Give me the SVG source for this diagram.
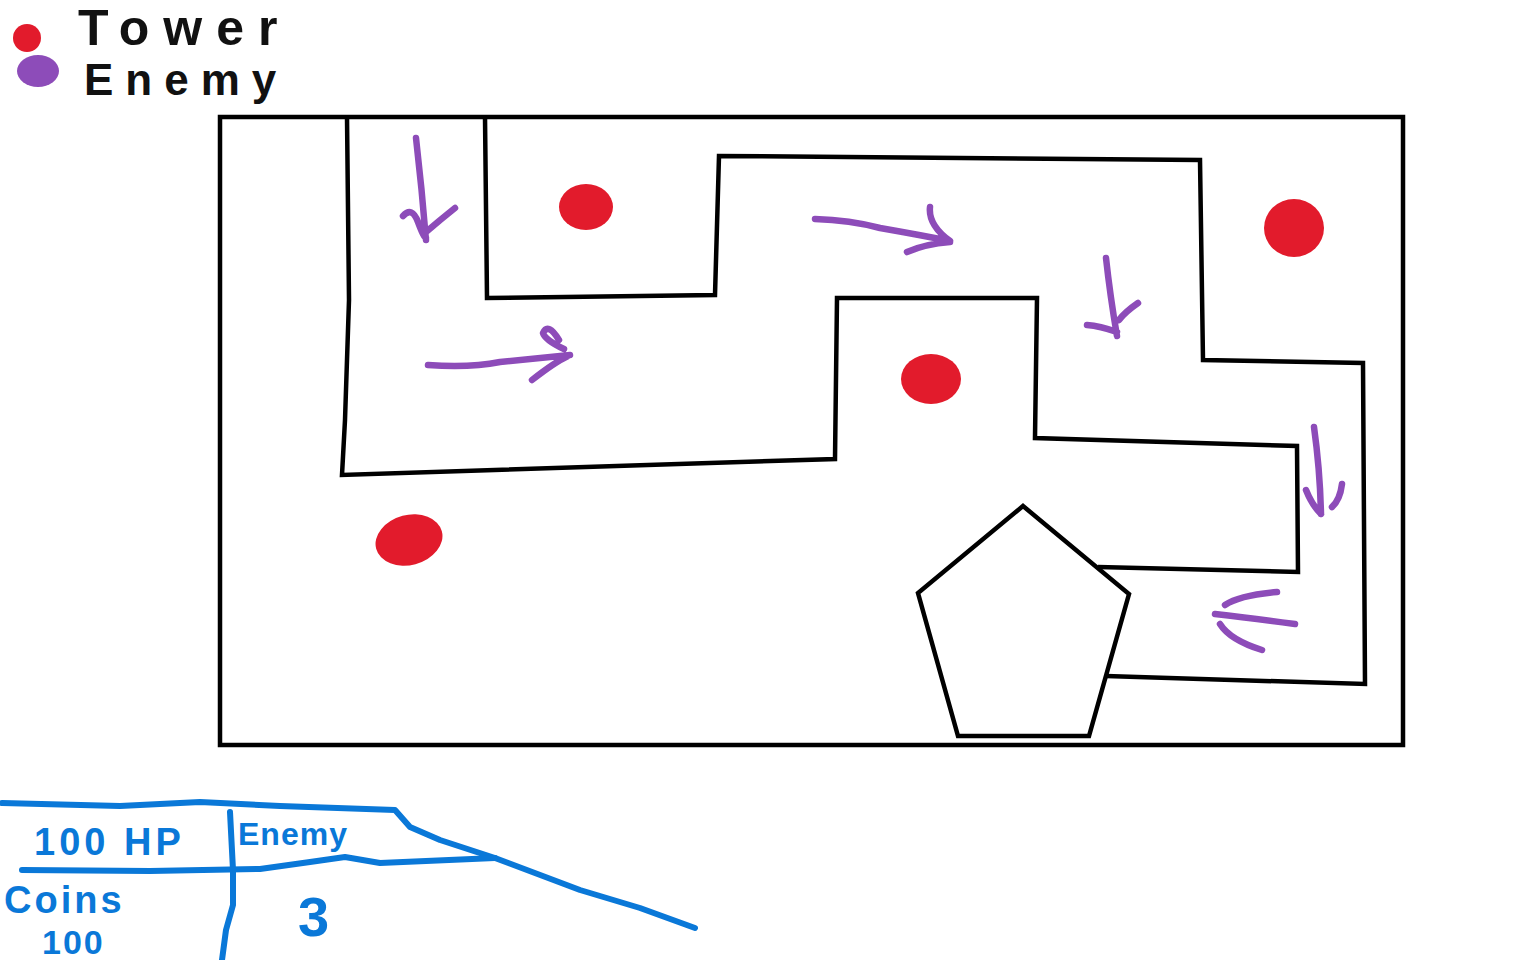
<svg xmlns="http://www.w3.org/2000/svg" width="1536" height="960" viewBox="0 0 1536 960">
<style>
.wall{fill:none;stroke:#000;stroke-width:4.5;stroke-linejoin:miter}
.arr{fill:none;stroke:#8d4cb9;stroke-width:6.5;stroke-linecap:round;stroke-linejoin:round}
.tower{fill:#e21b2c}
.blue{fill:none;stroke:#0a78d8;stroke-width:6;stroke-linecap:round;stroke-linejoin:round}
.bt{font-family:"Liberation Sans",sans-serif;fill:#0a78d8;font-weight:bold}
.lt{font-family:"Liberation Sans",sans-serif;fill:#111;font-weight:bold}
</style>
<rect width="1536" height="960" fill="#fff"/>
<g id="legend">
<circle cx="27" cy="38" r="14" class="tower"/>
<ellipse cx="38" cy="71" rx="21" ry="16" fill="#8d4cb9"/>
<text x="78" y="45" class="lt" font-size="50" letter-spacing="14">Tower</text>
<text x="84" y="95" class="lt" font-size="44" letter-spacing="12">Enemy</text>
</g>
<g id="map">
<rect x="220" y="117" width="1183" height="628" class="wall"/>
<polyline class="wall" points="347,117 349,300 345,420 342,475 835,459 837,298 1037,298 1035,438 1297,446 1298,572 1098,567"/>
<polyline class="wall" points="485,117 487,298 715,295 719,156 1200,160 1203,360 1363,363 1365,684 1106,676"/>
<polygon id="base" class="wall" fill="#fff" points="1023,506 1129,594 1089,736 958,736 918,593"/>
</g>
<g id="towers">
<ellipse cx="586" cy="207" rx="27" ry="23" class="tower"/>
<ellipse cx="1294" cy="228" rx="30" ry="29" class="tower"/>
<ellipse cx="931" cy="379" rx="30" ry="25" class="tower"/>
<ellipse cx="409" cy="540" rx="34" ry="25" transform="rotate(-15 409 540)" class="tower"/>
</g>
<g id="connectors">
<path class="arr" d="M416,138 Q422,190 426,240 M403,216 Q412,206 418,222 Q424,238 426,238 M455,208 Q440,220 426,232"/>
<path class="arr" d="M428,365 Q470,368 500,362 Q540,358 570,355 M532,380 Q555,362 568,356 M564,349 Q545,340 543,333 Q548,322 559,340"/>
<path class="arr" d="M815,219 Q850,220 880,228 Q920,235 950,241 M930,207 Q928,225 950,241 M907,252 Q925,244 950,242"/>
<path class="arr" d="M1106,258 Q1110,295 1117,336 M1087,325 Q1100,326 1117,332 M1138,303 Q1125,312 1119,320"/>
<path class="arr" d="M1314,427 Q1320,470 1321,514 M1306,490 Q1312,505 1321,514 M1342,484 Q1340,500 1332,507"/>
<path class="arr" d="M1295,624 Q1250,618 1215,614 M1277,592 Q1240,595 1225,605 M1220,624 Q1230,640 1262,650"/>
</g>
<g id="stats">
<polyline class="blue" points="2,803 120,806 200,802 280,806 395,810 410,827 440,840 495,858 580,890 640,908 695,928"/>
<polyline class="blue" points="22,870 150,871 260,869 310,862 345,857 380,863 495,858"/>
<polyline class="blue" points="230,812 233,870 233,905 226,930 222,960"/>
<text x="34" y="855" class="bt" font-size="38" letter-spacing="4">100 HP</text>
<text x="238" y="845" class="bt" font-size="32" letter-spacing="1">Enemy</text>
<text x="4" y="913" class="bt" font-size="38" letter-spacing="3">Coins</text>
<text x="42" y="954" class="bt" font-size="34" letter-spacing="2">100</text>
<text x="298" y="936" class="bt" font-size="56">3</text>
</g>
</svg>
